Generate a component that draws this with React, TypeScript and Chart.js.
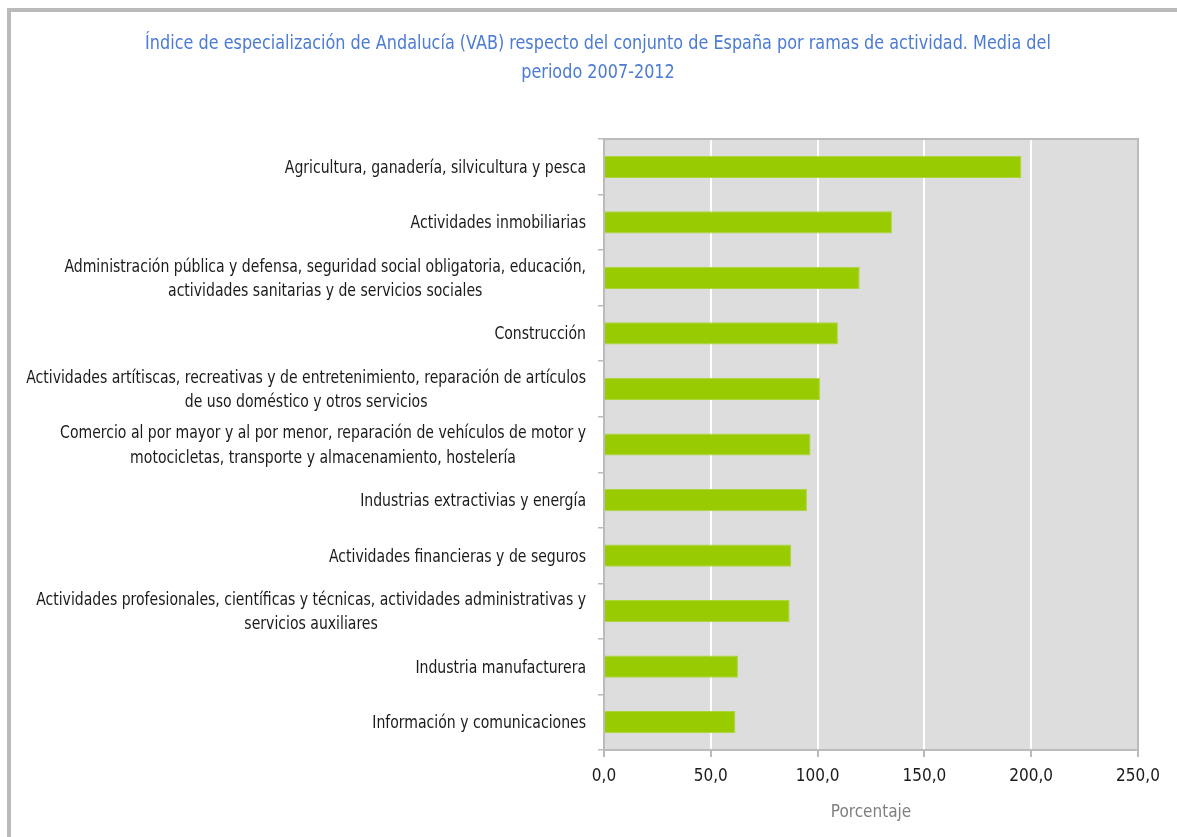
import React, { useEffect, useRef } from "react";
import { Chart, registerables } from "chart.js";

Chart.register(...registerables);

const TITLE_LINES = [
  "Índice de especialización de Andalucía (VAB) respecto del conjunto de España por ramas de actividad. Media del",
  "periodo 2007-2012",
];

const CATEGORIES: (string | string[])[] = [
  "Agricultura, ganadería, silvicultura y pesca",
  "Actividades inmobiliarias",
  [
    "Administración pública y defensa, seguridad social obligatoria, educación,",
    "actividades sanitarias y de servicios sociales",
  ],
  "Construcción",
  [
    "Actividades artítiscas, recreativas y de entretenimiento, reparación de artículos",
    "de uso doméstico y otros servicios",
  ],
  [
    "Comercio al por mayor y al por menor, reparación de vehículos de motor y",
    "motocicletas, transporte y almacenamiento, hostelería",
  ],
  "Industrias extractivias y energía",
  "Actividades financieras y de seguros",
  [
    "Actividades profesionales, científicas y técnicas, actividades administrativas y",
    "servicios auxiliares",
  ],
  "Industria manufacturera",
  "Información y comunicaciones",
];

const VALUES = [195.4, 134.8, 119.7, 109.5, 101.1, 96.7, 95.0, 87.7, 86.9, 62.7, 61.5];

const X_TICKS = [0, 50, 100, 150, 200, 250];
const X_TITLE = "Porcentaje";

const FONT = "'Liberation Sans Narrow', 'Arial Narrow', 'DejaVu Sans Condensed', sans-serif";

function drawCondensed(ctx: CanvasRenderingContext2D, text: string, cx: number, cy: number, sx: number) {
  ctx.save();
  ctx.translate(cx, cy);
  ctx.scale(sx, 1);
  ctx.fillText(text, 0, 0);
  ctx.restore();
}

export default function App() {
  const ref = useRef<HTMLCanvasElement | null>(null);

  useEffect(() => {
    document.body.style.margin = "0";
    const canvas = ref.current;
    if (!canvas) return;

    const decor = {
      id: "decor",
      beforeDraw(chart: any) {
        const { ctx, chartArea } = chart;
        ctx.save();
        ctx.fillStyle = "#DDDDDD";
        ctx.fillRect(chartArea.left, chartArea.top, chartArea.right - chartArea.left, chartArea.bottom - chartArea.top);
        ctx.restore();
      },
      beforeDatasetsDraw(chart: any) {
        const { ctx, chartArea } = chart;
        ctx.save();
        ctx.strokeStyle = "#BBBBBB";
        ctx.lineWidth = 2;
        ctx.beginPath();
        ctx.moveTo(chartArea.left, chartArea.top);
        ctx.lineTo(chartArea.right, chartArea.top);
        ctx.lineTo(chartArea.right, chartArea.bottom);
        ctx.stroke();
        ctx.restore();
      },
      afterDraw(chart: any) {
        const { ctx } = chart;
        ctx.save();
        ctx.textAlign = "center";
        ctx.textBaseline = "middle";
        // title
        ctx.fillStyle = "#4B7BD4";
        ctx.font = `20px ${FONT}`;
        const tsx = 0.892;
        TITLE_LINES.forEach((line, i) => {
          drawCondensed(ctx, line, 598, 44 + i * 28.5, tsx);
        });
        // y labels
        const yScale = chart.scales.y;
        ctx.fillStyle = "#1A1A1A";
        ctx.font = `17px ${FONT}`;
        const lsx = 0.918;
        const lh = 24.5;
        const rightX = yScale.right - 18;
        CATEGORIES.forEach((lab, i) => {
          const lines = Array.isArray(lab) ? lab : [lab];
          const widest = Math.max(...lines.map((l) => ctx.measureText(l).width)) * lsx;
          const cx = rightX - widest / 2;
          const py = yScale.getPixelForValue(i) + 1.5;
          lines.forEach((l, j) => {
            drawCondensed(ctx, l, cx, py + (j - (lines.length - 1) / 2) * lh, lsx);
          });
        });
        ctx.restore();
      },
    };

    const chart = new Chart(canvas, {
      type: "bar",
      data: {
        labels: CATEGORIES as any,
        datasets: [
          {
            data: VALUES,
            backgroundColor: "#99CC00",
            borderColor: "#ADD43A",
            borderWidth: 1,
            barPercentage: 0.4,
            categoryPercentage: 1,
          },
        ],
      },
      options: {
        indexAxis: "y",
        animation: false,
        responsive: false,
        devicePixelRatio: 1,
        layout: { padding: { top: 139, right: 39, left: 0, bottom: 0 } },
        plugins: {
          legend: { display: false },
          title: { display: false },
          tooltip: { enabled: false },
        },
        scales: {
          x: {
            type: "linear",
            min: 0,
            max: 250,
            afterBuildTicks: (scale: any) => {
              scale.ticks = X_TICKS.map((v) => ({ value: v }));
            },
            afterFit: (scale: any) => {
              scale.height = 87;
            },
            ticks: {
              color: "#1A1A1A",
              font: { family: FONT, size: 17 },
              padding: 9,
              callback: (v: any) => Number(v).toFixed(1).replace(".", ","),
            },
            grid: {
              color: (c: any) =>
                c.tick && c.tick.value === 0 ? "rgba(0,0,0,0)" : c.tick && c.tick.value === 250 ? "#BBBBBB" : "#FFFFFF",
              lineWidth: 2,
              tickLength: 7,
              tickColor: "#BBBBBB",
            },
            border: { display: true, color: "#BBBBBB", width: 2 },
            title: {
              display: true,
              text: X_TITLE,
              color: "#7F7F7F",
              font: { family: FONT, size: 17 },
              padding: { top: 0, bottom: 14 },
            },
          },
          y: {
            afterFit: (scale: any) => {
              scale.width = 604;
            },
            ticks: { display: false },
            grid: {
              drawOnChartArea: false,
              drawTicks: true,
              tickLength: 6,
              color: "#BBBBBB",
              lineWidth: 1.5,
              offset: true,
            },
            border: { display: true, color: "#BBBBBB", width: 2 },
          },
        },
      },
      plugins: [decor],
    } as any);

    return () => chart.destroy();
  }, []);

  return (
    <div style={{ position: "fixed", left: 0, top: 0, width: 1177, height: 837, overflow: "hidden", background: "#FFFFFF" }}>
      <div
        style={{
          position: "absolute",
          left: 7,
          top: 8,
          width: 3000,
          height: 3000,
          border: "4px solid #BABABA",
          boxSizing: "border-box",
        }}
      />
      <canvas ref={ref} width={1177} height={837} style={{ position: "absolute", left: 0, top: 0, width: 1177, height: 837 }} />
    </div>
  );
}
